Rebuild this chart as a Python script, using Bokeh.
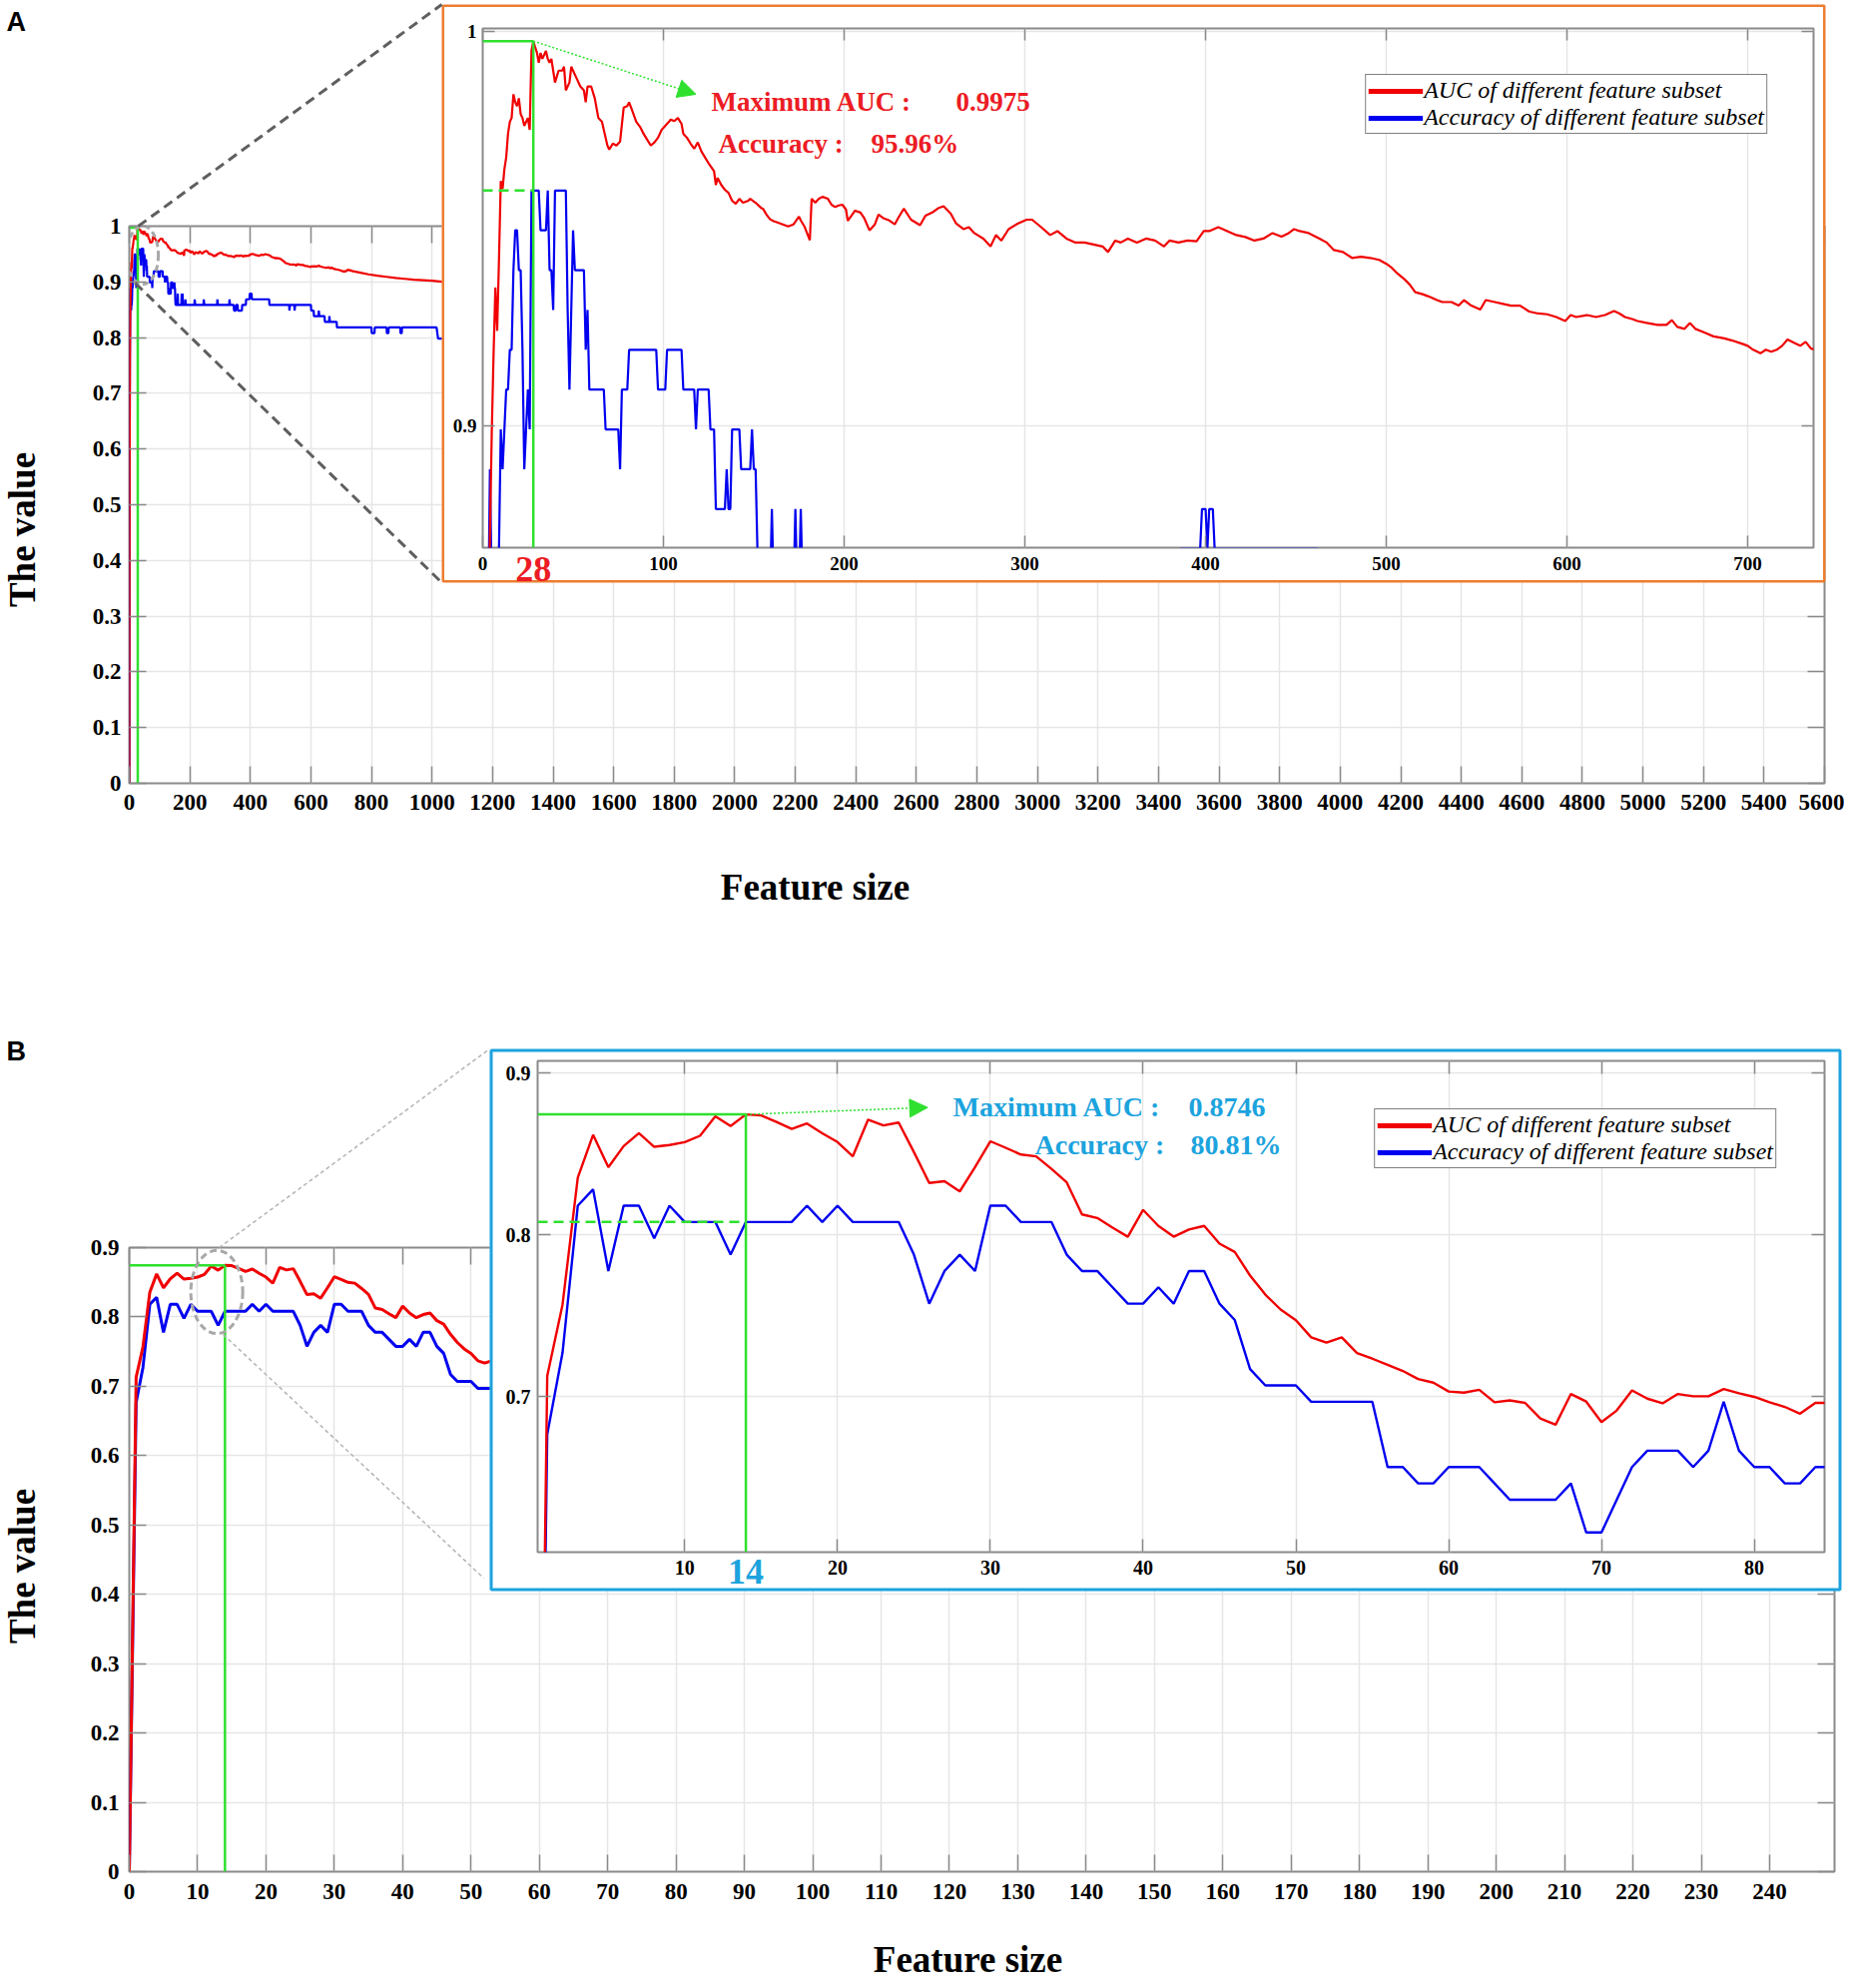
import math
from bokeh.plotting import figure
from bokeh.models import (Range1d, LinearAxis, FixedTicker, Label, Arrow, BoxAnnotation,
                          NormalHead, Legend, LegendItem, CustomJSTickFormatter)
from bokeh.embed import file_html
from bokeh.resources import INLINE

# ---------------- data : panel A ----------------
a_auc_size = [0, 1, 2, 3, 4, 5, 6, 7, 8, 9, 10, 11, 12, 13, 14, 15, 16, 17, 18, 19, 20, 21, 22, 23, 24, 25, 26, 27, 28, 29,
              30, 31, 32, 33, 34, 35, 36, 37, 38, 39, 40, 42, 44, 45, 46, 48, 49, 50, 52, 54, 56, 57, 58, 60, 62, 64, 66, 67, 69, 70,
              72, 74, 76, 78, 80, 81, 83, 85, 87, 89, 91, 93, 95, 97, 99, 101, 103, 104, 106, 108, 110, 111, 113, 115, 117, 119, 121, 123, 125, 128,
              129, 130, 132, 134, 136, 138, 140, 142, 144, 147, 148, 151, 154, 155, 157, 159, 161, 163, 166, 169, 172, 175, 176, 178, 181, 182, 184, 186, 188, 191,
              193, 195, 197, 199, 201, 202, 204, 206, 209, 211, 214, 217, 219, 222, 225, 228, 230, 233, 237, 242, 245, 249, 252, 255, 259, 262, 266, 269, 272, 277,
              281, 284, 287, 291, 296, 301, 304, 309, 314, 318, 323, 328, 333, 338, 343, 346, 350, 353, 357, 362, 367, 372, 377, 380, 385, 390, 395, 399, 402, 407,
              412, 417, 422, 427, 432, 437, 442, 446, 449, 452, 457, 463, 467, 471, 476, 481, 486, 491, 496, 500, 503, 506, 510, 513, 516, 520, 523, 528, 531, 536,
              540, 543, 547, 552, 555, 560, 564, 569, 574, 579, 584, 589, 594, 599, 602, 605, 611, 616, 621, 626, 629, 632, 636, 639, 644, 650, 655, 658, 661, 665,
              668, 671, 676, 681, 687, 691, 697, 700, 703, 707, 710, 713, 716, 719, 722, 725, 729, 732, 735, 760, 790, 820, 850, 880, 910, 940, 970, 1000, 1040]
a_auc_value = [0.0, 0.55, 0.76, 0.84, 0.872, 0.898, 0.918, 0.935, 0.924, 0.942, 0.962, 0.960, 0.965, 0.968, 0.974, 0.977, 0.978, 0.984, 0.982, 0.981,
               0.983, 0.979, 0.978, 0.976, 0.977, 0.978, 0.975, 0.995, 0.9975, 0.996,
               0.9946, 0.992, 0.9945, 0.993, 0.994, 0.995, 0.993, 0.992, 0.993, 0.990, 0.987, 0.990, 0.990, 0.991, 0.985, 0.987, 0.991, 0.990, 0.988, 0.986,
               0.985, 0.982, 0.986, 0.986, 0.983, 0.978, 0.977, 0.975, 0.971, 0.970,
               0.9715, 0.971, 0.972, 0.9806, 0.981, 0.982, 0.9795, 0.977, 0.9758, 0.974, 0.9725, 0.971, 0.9718, 0.973, 0.975, 0.976, 0.977, 0.9776, 0.9772, 0.978,
               0.9765, 0.974, 0.973, 0.9715, 0.9702, 0.9718, 0.9695, 0.968, 0.9665, 0.9645,
               0.961, 0.9628, 0.961, 0.9598, 0.959, 0.957, 0.9562, 0.9575, 0.9565, 0.957, 0.9575, 0.9565, 0.9552, 0.955, 0.9535, 0.9523, 0.9518, 0.9515, 0.951, 0.9505,
               0.951, 0.953, 0.952, 0.9505, 0.947, 0.9575, 0.9565, 0.9575, 0.958, 0.9575,
               0.956, 0.9554, 0.9558, 0.956, 0.9548, 0.9519, 0.9532, 0.9545, 0.954, 0.9527, 0.9495, 0.951, 0.9535, 0.9525, 0.952, 0.951, 0.9527, 0.955, 0.9522, 0.9508,
               0.9532, 0.9541, 0.9551, 0.9556, 0.9537, 0.9512, 0.9498, 0.9503, 0.9488, 0.9474,
               0.9454, 0.9483, 0.9469, 0.9498, 0.9512, 0.9522, 0.9522, 0.9503, 0.9483, 0.9493, 0.9474, 0.9464, 0.9464, 0.9459, 0.9454, 0.944, 0.9469, 0.9464, 0.9474, 0.9464,
               0.9474, 0.9469, 0.9454, 0.9469, 0.9464, 0.9469, 0.9467, 0.9493, 0.9493, 0.9503,
               0.9493, 0.9483, 0.9478, 0.9469, 0.9474, 0.9488, 0.9479, 0.9488, 0.9498, 0.9493, 0.9488, 0.9474, 0.9464, 0.9445, 0.944, 0.9425, 0.9428, 0.9425, 0.942, 0.941,
               0.940, 0.9386, 0.9371, 0.9357, 0.9338, 0.9333, 0.9328, 0.9318, 0.9313, 0.9313,
               0.9304, 0.9318, 0.9304, 0.9294, 0.9318, 0.9313, 0.9309, 0.9304, 0.9304, 0.9289, 0.9284, 0.9282, 0.9275, 0.9265, 0.928, 0.9275, 0.928, 0.9275, 0.928, 0.929,
               0.9284, 0.9275, 0.927, 0.9265, 0.926, 0.9255, 0.9255, 0.9267, 0.925, 0.9245,
               0.926, 0.9245, 0.9236, 0.9226, 0.9221, 0.9216, 0.9207, 0.9202, 0.9192, 0.9183, 0.9192, 0.9187, 0.9192, 0.9202, 0.9218, 0.9211, 0.9202, 0.9212, 0.9195, 0.917,
               0.9135, 0.911, 0.909, 0.907, 0.9055, 0.904, 0.903, 0.902, 0.900]

a_acc_size = [0, 1, 2, 3, 4, 5, 6, 7, 8, 9, 10, 11, 12, 13, 14, 15, 16, 17, 18, 19, 20, 21, 22, 23, 24, 25, 26, 27, 28, 31,
              32, 35, 36, 37, 38, 39, 40, 46, 47, 48, 49, 50, 51, 56, 57, 58, 59, 67, 68, 75, 76, 77, 80, 81, 96, 97, 101, 102, 110, 111,
              117, 118, 119, 125, 126, 128, 129, 134, 135, 136, 137, 138, 142, 143, 148, 149, 150, 151, 152, 153, 159, 160, 161, 172, 173, 174, 175, 176, 177, 184,
              185, 187, 215, 216, 218, 245, 246, 248, 290, 291, 293, 330, 331, 333, 345, 346, 352, 353, 358, 359, 372, 373, 385, 386, 397, 398, 400, 401, 402, 404,
              405, 462, 463, 528, 529, 531, 545, 546, 548, 600, 601, 609, 610, 625, 626, 628, 645, 646, 660, 661, 663, 685, 686, 800, 801, 810, 811, 850, 851, 856,
              857, 895, 896, 900, 901, 1015, 1020, 1040]
a_acc_value = [0.0, 0.55, 0.76, 0.8485, 0.8889, 0.8586, 0.8485, 0.8586, 0.8586, 0.8687, 0.899, 0.8889, 0.899, 0.9091, 0.9091, 0.9192, 0.9192, 0.9394, 0.9495, 0.9495,
               0.9394, 0.9394, 0.9192, 0.8889, 0.899, 0.9091, 0.899, 0.9596, 0.9596, 0.9596,
               0.9495, 0.9495, 0.9596, 0.9394, 0.9394, 0.9293, 0.9596, 0.9596, 0.9293, 0.9091, 0.9293, 0.9495, 0.9394, 0.9394, 0.9192, 0.9293, 0.9091, 0.9091, 0.899, 0.899,
               0.8889, 0.9091, 0.9091, 0.9192, 0.9192, 0.9091, 0.9091, 0.9192, 0.9192, 0.9091,
               0.9091, 0.899, 0.9091, 0.9091, 0.899, 0.899, 0.8788, 0.8788, 0.8889, 0.8788, 0.8788, 0.899, 0.899, 0.8889, 0.8889, 0.899, 0.8889, 0.8889, 0.8687, 0.8586,
               0.8586, 0.8788, 0.8586, 0.8586, 0.8788, 0.8586, 0.8586, 0.8788, 0.8586, 0.8586,
               0.8687, 0.8586, 0.8586, 0.8687, 0.8586, 0.8586, 0.8687, 0.8586, 0.8586, 0.8687, 0.8586, 0.8586, 0.8687, 0.8586, 0.8586, 0.8485, 0.8485, 0.8586, 0.8586, 0.8485,
               0.8485, 0.8586, 0.8586, 0.8687, 0.8687, 0.8788, 0.8788, 0.8687, 0.8788, 0.8788,
               0.8687, 0.8687, 0.8586, 0.8586, 0.8485, 0.8586, 0.8586, 0.8485, 0.8586, 0.8586, 0.8485, 0.8485, 0.8384, 0.8384, 0.8485, 0.8384, 0.8384, 0.8283, 0.8283, 0.8384,
               0.8283, 0.8283, 0.8182, 0.8182, 0.8081, 0.8081, 0.8182, 0.8182, 0.8081, 0.8081,
               0.8182, 0.8182, 0.8081, 0.8081, 0.8182, 0.8182, 0.798, 0.798]

a_main_xticks = list(range(0, 5601, 200))
a_main_yticks = [0, 0.1, 0.2, 0.3, 0.4, 0.5, 0.6, 0.7, 0.8, 0.9, 1.0]
a_inset_xticks = [0, 100, 200, 300, 400, 500, 600, 700]
a_inset_yticks = [0.9, 1.0]

# ---------------- data : panel B ----------------
b_size = list(range(0, 86))
b_auc = [0.0, 0.713, 0.757, 0.8355, 0.862, 0.842, 0.855, 0.863, 0.8546, 0.8557,
         0.8575, 0.8614, 0.8735, 0.8674, 0.8746, 0.874, 0.870, 0.8656, 0.869, 0.863,
         0.8575, 0.8487, 0.8714, 0.8678, 0.8696, 0.8513, 0.8322, 0.8333, 0.827, 0.842,
         0.858, 0.854, 0.8498, 0.8487, 0.841, 0.8326, 0.8128, 0.8106, 0.8046, 0.799,
         0.8156, 0.8057, 0.799, 0.8035, 0.8057, 0.7947, 0.7896, 0.775, 0.7632, 0.754,
         0.7474, 0.7368, 0.7335, 0.7368, 0.7271, 0.7236, 0.7198, 0.716, 0.711, 0.7088,
         0.7033, 0.7026, 0.7044, 0.6967, 0.6978, 0.6963, 0.6866, 0.6828, 0.7018, 0.6971,
         0.6844, 0.6916, 0.704, 0.6989, 0.696, 0.7018, 0.7004, 0.7004, 0.7048, 0.7022,
         0.700, 0.6967, 0.6938, 0.6896, 0.6963, 0.6963]
b_acc = [0.0, 0.6768, 0.7273, 0.8182, 0.8283, 0.7778, 0.8182, 0.8182, 0.798, 0.8182,
         0.8081, 0.8081, 0.8081, 0.7879, 0.8081, 0.8081, 0.8081, 0.8081, 0.8182, 0.8081,
         0.8182, 0.8081, 0.8081, 0.8081, 0.8081, 0.7879, 0.7576, 0.7778, 0.7879, 0.7778,
         0.8182, 0.8182, 0.8081, 0.8081, 0.8081, 0.7879, 0.7778, 0.7778, 0.7677, 0.7576,
         0.7576, 0.7677, 0.7576, 0.7778, 0.7778, 0.7576, 0.7475, 0.7172, 0.7071, 0.7071,
         0.7071, 0.697, 0.697, 0.697, 0.697, 0.697, 0.6566, 0.6566, 0.6465, 0.6465,
         0.6566, 0.6566, 0.6566, 0.6465, 0.6364, 0.6364, 0.6364, 0.6364, 0.6465, 0.6162,
         0.6162, 0.6364, 0.6566, 0.6667, 0.6667, 0.6667, 0.6566, 0.6667, 0.697, 0.6667,
         0.6566, 0.6566, 0.6465, 0.6465, 0.6566, 0.6566]
b_main_xticks = list(range(0, 241, 10))
b_main_yticks = [0, 0.1, 0.2, 0.3, 0.4, 0.5, 0.6, 0.7, 0.8, 0.9]
b_inset_xticks = [10, 20, 30, 40, 50, 60, 70, 80]
b_inset_yticks = [0.7, 0.8, 0.9]

LEGEND_LABELS = ["AUC of different feature subset", "Accuracy of different feature subset"]

# ---------------- style ----------------
RED = "#f00000"
BLUE = "#0000f0"
GREEN = "#2fe02f"
AXIS_GRAY = "#8a8a8a"
GRID = "#e6e6e6"
TXT_RED = "#ec1c24"
TXT_CYAN = "#1ca3dd"
ORANGE = "#ed7d31"
SERIF = "Liberation Serif"
SANS = "Liberation Sans"

# canvas boxes (left, top, width, height) and frame boxes (left, top, right, bottom), page pixels
A_CANVAS = (8, 8, 1839, 900)
A_FRAME = (129, 226, 1827, 784)
AI_CANVAS = (442, 4, 1386, 579)
AI_FRAME = (483, 28, 1816, 548)
B_CANVAS = (8, 1036, 1839, 900)
B_FRAME = (129, 1249, 1837, 1874)
BI_CANVAS = (490, 1050, 1354, 543)
BI_FRAME = (538, 1062, 1827, 1554)
PAGE_W, PAGE_H = 1854, 1990

A_XR, A_YR = (0, 5600), (0, 1.0)
AI_XR, AI_YR = (0, 736.4), (0.869, 1.0007)
B_XR, B_YR = (0, 249.5), (0, 0.9)
BI_XR, BI_YR = (0.37, 84.6), (0.604, 0.9077)


def to_data(frame, xr, yr, px, py):
    l, t, r, b = frame
    x = xr[0] + (px - l) / (r - l) * (xr[1] - xr[0])
    y = yr[1] - (py - t) / (b - t) * (yr[1] - yr[0])
    return x, y


def to_page(frame, xr, yr, x, y):
    l, t, r, b = frame
    px = l + (x - xr[0]) / (xr[1] - xr[0]) * (r - l)
    py = t + (yr[1] - y) / (yr[1] - yr[0]) * (b - t)
    return px, py


def style_axis(ax, ticks, font_px, tick_len, standoff, labels=True):
    ax.ticker = FixedTicker(ticks=ticks, minor_ticks=[])
    ax.axis_line_color = None
    ax.major_tick_in = tick_len
    ax.major_tick_out = 0
    ax.major_tick_line_color = AXIS_GRAY
    ax.major_tick_line_width = 1.5
    ax.minor_tick_line_color = None
    if labels:
        ax.formatter = CustomJSTickFormatter(code="return String(Math.round(tick * 1000) / 1000);")
        ax.major_label_text_font = SERIF
        ax.major_label_text_font_style = "bold"
        ax.major_label_text_font_size = f"{font_px}px"
        ax.major_label_text_color = "black"
        ax.major_label_standoff = standoff
    else:
        ax.formatter = CustomJSTickFormatter(code="return '';")
        ax.major_label_text_font_size = "0px"
        ax.major_label_standoff = 0


def place(p, canvas, extra=None):
    st = {"position": "absolute", "left": f"{canvas[0]}px", "top": f"{canvas[1]}px"}
    if extra:
        st.update(extra)
    p.styles = st


def make_plot(canvas, frame, xr, yr, xticks, yticks, font_px, tick_len, sx, sy):
    cx, cy, w, h = canvas
    l, t, r, b = frame
    p = figure(width=w, height=h, x_range=Range1d(*xr), y_range=Range1d(*yr),
               output_backend="svg", toolbar_location=None,
               min_border_left=l - cx, min_border_top=t - cy,
               min_border_right=cx + w - r, min_border_bottom=cy + h - b)
    place(p, canvas)
    p.background_fill_color = "white"
    p.border_fill_color = "white"
    p.outline_line_color = AXIS_GRAY
    p.outline_line_width = 2
    p.add_layout(LinearAxis(), "above")
    p.add_layout(LinearAxis(), "right")
    for ax in p.below:
        if isinstance(ax, LinearAxis):
            style_axis(ax, xticks, font_px, tick_len, sx, True)
    for ax in p.above:
        if isinstance(ax, LinearAxis):
            style_axis(ax, xticks, font_px, tick_len, 0, False)
    for ax in p.left:
        if isinstance(ax, LinearAxis):
            style_axis(ax, yticks, font_px, tick_len, sy, True)
    for ax in p.right:
        if isinstance(ax, LinearAxis):
            style_axis(ax, yticks, font_px, tick_len, 0, False)
    p.xgrid[0].ticker = FixedTicker(ticks=xticks)
    p.ygrid[0].ticker = FixedTicker(ticks=yticks)
    for g in (p.xgrid[0], p.ygrid[0]):
        g.grid_line_color = GRID
        g.grid_line_width = 1.5
    return p


def add_text(p, frame, xr, yr, px, py, text, size, color, style="bold", font=SERIF,
             align="left", baseline="middle", angle=0.0):
    x, y = to_data(frame, xr, yr, px, py)
    p.add_layout(Label(x=x, y=y, text=text, text_font=font, text_font_style=style,
                       text_font_size=f"{size}px", text_color=color, text_align=align,
                       text_baseline=baseline, angle=angle))


def add_legend(p, xs_auc, ys_auc, xs_acc, ys_acc, margin):
    r1 = p.line(xs_auc, ys_auc, line_color=RED, line_width=5, visible=False)
    r2 = p.line(xs_acc, ys_acc, line_color=BLUE, line_width=5, visible=False)
    leg = Legend(items=[LegendItem(label=LEGEND_LABELS[0], renderers=[r1]),
                        LegendItem(label=LEGEND_LABELS[1], renderers=[r2])],
                 location="top_right", margin=margin, padding=2, spacing=0,
                 glyph_width=55, glyph_height=26, label_height=26, label_standoff=1,
                 label_text_font=SERIF, label_text_font_style="italic",
                 label_text_font_size="24px", label_text_color="black",
                 border_line_color="black", border_line_width=1.5,
                 background_fill_color="white", background_fill_alpha=1.0,
                 inactive_fill_alpha=0.0, click_policy="none")
    p.add_layout(leg)


# best feature subsets (from the data)
ia = a_auc_value.index(max(a_auc_value))
best_a_x, best_a_auc = a_auc_size[ia], a_auc_value[ia]
best_a_acc = a_acc_value[a_acc_size.index(best_a_x)]
ib = b_auc.index(max(b_auc))
best_b_x, best_b_auc = b_size[ib], b_auc[ib]
best_b_acc = b_acc[ib]

# ============ Panel A main ============
pa = make_plot(A_CANVAS, A_FRAME, A_XR, A_YR, a_main_xticks, a_main_yticks, 23, 17, 11, 8)
pa.line(a_acc_size, a_acc_value, line_color=BLUE, line_width=2.2)
pa.line(a_auc_size, a_auc_value, line_color=RED, line_width=2.2)
pa.line([best_a_x, best_a_x], [A_YR[0], best_a_auc], line_color=GREEN, line_width=2.5)
pa.line([A_XR[0], best_a_x], [best_a_auc, best_a_auc], line_color=GREEN, line_width=2.5)
pa.ellipse(x=[44], y=[0.948], width=104, height=0.105, fill_color=None,
           line_color="#a8a8a8", line_width=3, line_dash="6 4")

# ============ Panel A inset ============
pai = make_plot(AI_CANVAS, AI_FRAME, AI_XR, AI_YR, a_inset_xticks, a_inset_yticks, 19, 12, 9, 6)
pai.line(a_acc_size, a_acc_value, line_color=BLUE, line_width=2.2)
pai.line(a_auc_size, a_auc_value, line_color=RED, line_width=2.2)
pai.line([AI_XR[0], best_a_x], [best_a_auc, best_a_auc], line_color=GREEN, line_width=2.5)
pai.line([best_a_x, best_a_x], [AI_YR[0], best_a_auc], line_color=GREEN, line_width=2.5)
pai.line([AI_XR[0], best_a_x], [best_a_acc, best_a_acc], line_color=GREEN, line_width=2.5, line_dash="10 6")
pai.add_layout(Arrow(end=NormalHead(size=18, fill_color=GREEN, line_color=GREEN),
                     x_start=best_a_x, y_start=best_a_auc, x_end=118, y_end=0.984,
                     line_color=GREEN, line_width=1.5, line_dash="2 2"))
add_text(pai, AI_FRAME, AI_XR, AI_YR, 712, 101.5, "Maximum AUC :", 27, TXT_RED)
add_text(pai, AI_FRAME, AI_XR, AI_YR, 957, 101.5, f"{best_a_auc:.4f}", 27, TXT_RED)
add_text(pai, AI_FRAME, AI_XR, AI_YR, 719, 143, "Accuracy :", 27, TXT_RED)
add_text(pai, AI_FRAME, AI_XR, AI_YR, 872, 143, f"{best_a_acc * 100:.2f}%", 27, TXT_RED)
add_legend(pai, a_auc_size, a_auc_value, a_acc_size, a_acc_value, 46)

# ============ Panel B main ============
pb = make_plot(B_CANVAS, B_FRAME, B_XR, B_YR, b_main_xticks, b_main_yticks, 23, 17, 12, 10)
pb.line(b_size, b_acc, line_color=BLUE, line_width=3)
pb.line(b_size, b_auc, line_color=RED, line_width=3)
pb.line([best_b_x, best_b_x], [B_YR[0], best_b_auc], line_color=GREEN, line_width=2.5)
pb.line([B_XR[0], best_b_x], [best_b_auc, best_b_auc], line_color=GREEN, line_width=2.5)
pb.ellipse(x=[12.8], y=[0.836], width=7.6, height=0.12, fill_color=None,
           line_color="#a8a8a8", line_width=3, line_dash="7 4")

# ============ Panel B inset ============
pbi = make_plot(BI_CANVAS, BI_FRAME, BI_XR, BI_YR, b_inset_xticks, b_inset_yticks, 20, 13, 8, 7)
pbi.line(b_size, b_acc, line_color=BLUE, line_width=2.4)
pbi.line(b_size, b_auc, line_color=RED, line_width=2.4)
pbi.line([BI_XR[0], best_b_x], [best_b_auc, best_b_auc], line_color=GREEN, line_width=2.5)
pbi.line([best_b_x, best_b_x], [BI_YR[0], best_b_auc], line_color=GREEN, line_width=2.5)
pbi.line([BI_XR[0], best_b_x], [best_b_acc, best_b_acc], line_color=GREEN, line_width=2.5, line_dash="10 6")
pbi.add_layout(Arrow(end=NormalHead(size=18, fill_color=GREEN, line_color=GREEN),
                     x_start=best_b_x, y_start=best_b_auc, x_end=25.9, y_end=0.8789,
                     line_color=GREEN, line_width=1.5, line_dash="2 2"))
add_text(pbi, BI_FRAME, BI_XR, BI_YR, 954, 1108, "Maximum AUC :", 28, TXT_CYAN)
add_text(pbi, BI_FRAME, BI_XR, BI_YR, 1190, 1108, f"{best_b_auc:.4f}", 28, TXT_CYAN)
add_text(pbi, BI_FRAME, BI_XR, BI_YR, 1036, 1146, "Accuracy :", 28, TXT_CYAN)
add_text(pbi, BI_FRAME, BI_XR, BI_YR, 1192, 1146, f"{best_b_acc * 100:.2f}%", 28, TXT_CYAN)
add_legend(pbi, b_size, b_auc, b_size, b_acc, 48)

# ============ transparent overlay for texts / connectors / inset boxes ============
ov = figure(width=PAGE_W, height=PAGE_H, x_range=Range1d(0, PAGE_W), y_range=Range1d(PAGE_H, 0),
            output_backend="svg", toolbar_location=None, x_axis_location=None, y_axis_location=None,
            min_border=0)
place(ov, (0, 0, PAGE_W, PAGE_H), {"pointer-events": "none"})
ov.grid.visible = False
ov.outline_line_color = None
ov.background_fill_alpha = 0.0
ov.border_fill_alpha = 0.0


def ov_text(px, py, text, size, color="black", font=SERIF, align="center", angle=0.0, style="bold"):
    ov.add_layout(Label(x=px, y=py, text=text, text_font=font, text_font_style=style,
                        text_font_size=f"{size}px", text_color=color, text_align=align,
                        text_baseline="middle", angle=angle))


def ov_connector(p0, p1, color, width, dash):
    ov.add_layout(Arrow(end=None, x_start=p0[0], y_start=p0[1], x_end=p1[0], y_end=p1[1],
                        line_color=color, line_width=width, line_dash=dash))


def ov_box(canvas, color, width):
    cx, cy, w, h = canvas
    half = width / 2
    ov.add_layout(BoxAnnotation(left=cx + half, right=cx + w - half, top=cy + half, bottom=cy + h - half,
                                fill_alpha=0.0, fill_color=None, line_color=color, line_width=width,
                                line_alpha=1.0))


ov_box(AI_CANVAS, ORANGE, 2.5)
ov_box(BI_CANVAS, TXT_CYAN, 3)

# zoom connectors (from the dashed ellipses to the inset corners)
ov_connector((138, 226), (AI_CANVAS[0], AI_CANVAS[1]), "#5f5f5f", 3, "10 6")
ov_connector((135, 283), (AI_CANVAS[0], AI_CANVAS[1] + AI_CANVAS[3]), "#5f5f5f", 3, "10 6")
ov_connector((219, 1249), (BI_CANVAS[0], BI_CANVAS[1]), "#b4b4b4", 1.5, "4 3")
ov_connector((223, 1336), (BI_CANVAS[0] - 6, BI_CANVAS[1] + BI_CANVAS[3] - 13), "#b4b4b4", 1.5, "4 3")

ov_text(6, 21, "A", 27, font=SANS, align="left")
ov_text(6, 1052, "B", 27, font=SANS, align="left")
ov_text(22, 530, "The value", 37, angle=math.pi / 2)
ov_text(22, 1568, "The value", 37, angle=math.pi / 2)
ov_text(816, 888, "Feature size", 37)
ov_text(969, 1962, "Feature size", 37)

bx, _ = to_page(AI_FRAME, AI_XR, AI_YR, best_a_x, AI_YR[0])
ov_text(bx, 569, str(best_a_x), 36, color=TXT_RED)
bx, _ = to_page(BI_FRAME, BI_XR, BI_YR, best_b_x, BI_YR[0])
ov_text(bx, 1573, str(best_b_x), 36, color=TXT_CYAN)

open("out.html", "w").write(file_html([pa, pai, pb, pbi, ov], INLINE))
